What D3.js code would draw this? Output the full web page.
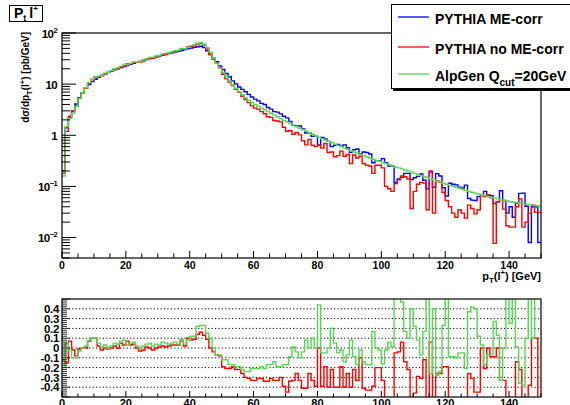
<!DOCTYPE html>
<html><head><meta charset="utf-8">
<script src="https://cdn.jsdelivr.net/npm/d3@7"></script>
<style>
html,body{margin:0;padding:0;background:#fff;}
svg{display:block;font-family:"Liberation Sans",Arial,Helvetica,sans-serif;}
</style></head><body>
<svg id="c" width="570" height="405"></svg>
<script>
// ---- data (1 GeV bins, pT 0..150 GeV) ----
const binEdgesStart = 0, binEdgesEnd = 150, binWidth = 1;
const pythiaME = [0.2,1.4,2.2,3.0,4.1,5.4,6.8,8.3,9.8,11.2,
12.5,13.6,14.8,15.9,17.0,18.0,19.0,20.0,21.0,22.0,
23.2,24.3,25.5,26.6,27.8,29.0,30.2,31.5,32.8,34.0,
35.3,36.7,38.0,39.5,41.0,42.5,44.0,45.6,47.2,48.9,
50.6,52.3,54.0,55.0,52.0,45.0,38.0,32.0,27.4,22.6,
19.3,16.1,13.9,11.6,10.1,8.8,7.9,7.1,6.3,5.6,
5.1,4.7,4.2,4.0,3.5,3.25,2.9,2.84,2.62,2.36,
2.19,1.87,1.56,1.53,1.52,1.33,1.11,1.12,0.95,0.98,
0.64,0.91,0.85,0.76,0.6,0.64,0.66,0.61,0.65,0.57,
0.46,0.52,0.54,0.43,0.47,0.46,0.43,0.29,0.32,0.32,
0.35,0.29,0.25,0.25,0.12,0.14,0.15,0.18,0.18,0.136,
0.148,0.157,0.175,0.132,0.09,0.19,0.096,0.178,0.16,0.094,
0.065,0.115,0.11,0.107,0.097,0.093,0.106,0.058,0.054,0.053,
0.063,0.066,0.08,0.068,0.066,0.046,0.05,0.082,0.053,0.03,
0.04,0.025,0.047,0.073,0.074,0.041,0.008,0.04,0.04,0.008];
const pythiaNoME = [0.18,1.19,2.35,2.94,3.77,5.35,6.8,8.3,10.5,12.3,
13.75,13.9,14.5,15.9,16.8,18.0,19.4,20.0,22.0,22.7,
24.8,25.0,26.5,26.6,27.0,28.4,30.5,31.5,32.1,34.0,
35.7,37.4,38.4,40.3,42.2,43.8,45.3,48.8,48.1,53.8,
54.6,57.0,61.0,63.0,58.0,49.0,38.0,30.7,25.5,20.8,
15.6,12.7,11.0,9.4,7.9,6.9,5.8,5.0,4.35,3.75,
3.4,3.25,2.9,2.64,2.31,2.24,1.94,1.9,1.83,1.44,
1.2,1.23,1.05,1.13,1.02,0.78,0.65,0.83,0.64,0.6,
0.64,0.56,0.69,0.46,0.47,0.38,0.4,0.49,0.39,0.42,
0.28,0.41,0.36,0.39,0.28,0.26,0.25,0.18,0.26,0.26,
0.23,0.1,0.09,0.08,0.114,0.134,0.16,0.155,0.14,0.037,
0.08,0.11,0.12,0.116,0.035,0.2,0.03,0.13,0.12,0.076,
0.053,0.04,0.03,0.025,0.035,0.03,0.024,0.043,0.037,0.029,
0.035,0.066,0.063,0.068,0.06,0.0077,0.05,0.055,0.036,0.017,
0.016,0.016,0.04,0.057,0.016,0.02,0.03,0.043,0.031,0.031];
const alpgen = [0.16,1.47,2.16,2.7,3.7,5.24,6.8,8.47,10.6,12.3,
13.75,14.3,14.95,16.4,17.0,18.4,19.95,20.8,22.5,23.8,
23.9,25.5,27.0,27.1,27.8,29.6,31.4,33.1,33.5,35.4,
36.4,38.9,39.9,41.1,43.1,45.1,45.8,49.7,49.1,52.8,
56.7,58.6,63.0,65.0,61.0,51.8,41.8,32.0,25.5,21.0,
17.0,14.2,11.5,9.6,8.2,7.1,6.2,5.4,4.8,4.4,
4.0,3.7,3.4,3.15,2.9,2.7,2.5,2.3,2.12,1.96,
1.82,1.7,1.58,1.47,1.37,1.28,1.2,1.12,1.05,0.98,
0.92,0.86,0.81,0.76,0.72,0.67,0.63,0.6,0.56,0.53,
0.5,0.47,0.45,0.42,0.4,0.38,0.36,0.34,0.32,0.31,
0.29,0.28,0.265,0.25,0.24,0.23,0.22,0.21,0.2,0.19,
0.18,0.17,0.163,0.155,0.148,0.14,0.134,0.128,0.122,0.116,
0.11,0.105,0.1,0.096,0.092,0.088,0.084,0.08,0.077,0.074,
0.071,0.068,0.066,0.063,0.061,0.059,0.057,0.055,0.053,0.052,
0.05,0.049,0.048,0.047,0.046,0.045,0.044,0.043,0.042,0.041];
const ratioNoME = [-0.12,-0.15,0.07,-0.02,-0.08,-0.01,0.0,0.0,0.07,0.1,
0.1,0.02,-0.02,0.0,-0.01,0.0,0.02,0.0,0.05,0.03,
0.07,0.03,0.04,0.0,-0.03,-0.02,0.01,0.0,-0.02,0.0,
0.01,0.02,0.01,0.02,0.03,0.03,0.03,0.07,0.02,0.1,
0.08,0.09,0.14,0.16,0.13,0.09,0.0,-0.04,-0.07,-0.08,
-0.19,-0.21,-0.21,-0.19,-0.22,-0.22,-0.26,-0.3,-0.31,-0.33,
-0.33,-0.31,-0.31,-0.34,-0.34,-0.31,-0.33,-0.33,-0.3,-0.39,
-0.45,-0.34,-0.33,-0.26,-0.33,-0.41,-0.41,-0.26,-0.33,-0.39,
0.0,-0.39,-0.19,-0.4,-0.22,-0.4,-0.4,-0.19,-0.4,-0.26,
-0.4,-0.22,-0.33,-0.1,-0.41,-0.43,-0.43,-0.39,-0.2,-0.2,
-0.33,-0.6,-0.6,-0.6,-0.05,-0.04,0.06,-0.14,-0.22,-0.6,
-0.46,-0.29,-0.31,-0.12,-0.6,0.06,-0.6,-0.26,-0.26,-0.19,
-0.19,-0.6,-0.6,-0.6,-0.6,-0.6,-0.6,-0.26,-0.31,-0.45,
-0.45,0.0,-0.21,0.0,-0.09,-0.09,0.0,-0.33,-0.33,-0.6,
-0.6,-0.6,-0.14,-0.22,-0.6,-0.6,-0.38,0.1,0.1,-0.6];
const ratioAlpgen = [-0.2,0.05,-0.02,-0.1,-0.1,-0.03,0.0,0.02,0.08,0.1,
0.1,0.05,0.01,0.03,0.0,0.02,0.05,0.04,0.07,0.08,
0.03,0.05,0.06,0.02,0.0,0.02,0.04,0.05,0.02,0.04,
0.03,0.06,0.05,0.04,0.05,0.06,0.04,0.09,0.04,0.08,
0.12,0.12,0.22,0.23,0.23,0.15,0.1,0.0,-0.07,-0.07,
-0.12,-0.12,-0.17,-0.17,-0.19,-0.19,-0.22,-0.24,-0.24,-0.21,
-0.21,-0.21,-0.19,-0.21,-0.17,-0.17,-0.14,-0.19,-0.19,-0.17,
-0.17,-0.09,0.01,-0.04,-0.1,-0.04,0.08,0.0,0.1,0.0,
0.44,-0.05,-0.05,0.0,0.2,0.05,-0.05,-0.02,-0.14,-0.07,
0.08,-0.09,-0.17,-0.02,-0.14,-0.17,-0.17,0.17,0.0,-0.02,
-0.16,-0.02,0.06,0.01,0.55,0.55,0.47,0.17,0.1,0.4,
0.22,0.08,-0.07,0.17,0.55,-0.26,0.4,-0.28,-0.24,0.23,
0.55,-0.09,-0.09,-0.1,-0.05,-0.05,-0.21,0.37,0.42,0.4,
0.12,0.03,-0.17,-0.07,-0.07,0.27,0.13,-0.33,0.0,0.55,
0.25,0.55,0.01,-0.36,-0.38,0.1,0.55,0.1,0.55,0.55];

const xTickValues = [0,20,40,60,80,100,120,140];
const yTopTicks = [{v:100,b:"10",s:"2"},{v:10,b:"10",s:""},{v:1,b:"1",s:""},{v:0.1,b:"10",s:"-1"},{v:0.01,b:"10",s:"-2"}];
const ratioTicks = [0.4,0.3,0.2,0.1,0,-0.1,-0.2,-0.3,-0.4];
const ratioLabels = ["0.4","0.3","0.2","0.1","0","-0.1","-0.2","-0.3","-0.4"];
const legendEntries = [
  {name:"PYTHIA ME-corr", color:"#0000ff"},
  {name:"PYTHIA no ME-corr", color:"#ff0000"},
  {name:"AlpGen Q", sub:"cut", tail:"=20GeV", color:"#59d454"}
];
const colBlue="#0000ff", colRed="#ff0000", colGreen="#59d454";

// ---- layout ----
const svg = d3.select("#c");
const L=62, R=541, T1=33, B1=258, T2=299, B2=397;
const x = d3.scaleLinear().domain([binEdgesStart,binEdgesEnd]).range([L,R]);
const yTop = d3.scaleLog().domain([Math.pow(10,-2.4),100]).range([B1,T1]);
const yR = d3.scaleLinear().domain([-0.5,0.5]).range([B2,T2]);

const defs = svg.append("defs");
defs.append("clipPath").attr("id","clipTop").append("rect").attr("x",L).attr("y",T1).attr("width",R-L).attr("height",B1-T1);
defs.append("clipPath").attr("id","clipR").append("rect").attr("x",L).attr("y",T2).attr("width",R-L).attr("height",B2-T2);

function stepPath(vals, ys){
  const pts = vals.map((v,i)=>[x(binEdgesStart+i*binWidth), ys(v)]);
  pts.push([x(binEdgesStart+vals.length*binWidth), ys(vals[vals.length-1])]);
  return d3.line().curve(d3.curveStepAfter)(pts);
}

// ===== top panel =====
const gTop = svg.append("g");
const gh = gTop.append("g").attr("clip-path","url(#clipTop)");
[[pythiaME,colBlue],[pythiaNoME,colRed],[alpgen,colGreen]].forEach(([d,c])=>{
  gh.append("path").attr("d",stepPath(d,yTop)).attr("fill","none").attr("stroke",c).attr("stroke-width",1.4);
});
gTop.append("rect").attr("x",L).attr("y",T1).attr("width",R-L).attr("height",B1-T1)
  .attr("fill","none").attr("stroke","#000").attr("stroke-width",1.2);

// x ticks (inside)
d3.range(0,151,5).forEach(v=>{
  const major = v%20===0;
  gTop.append("line").attr("x1",x(v)).attr("x2",x(v)).attr("y1",B1).attr("y2",B1-(major?7:4.5)).attr("stroke","#000").attr("stroke-width",1);
});
xTickValues.forEach(v=>{
  gTop.append("text").attr("x",x(v)).attr("y",268.5).attr("text-anchor","middle")
    .attr("font-size",10.5).attr("font-weight","bold").text(v);
});
// y ticks log
for(let e=-3;e<2;e++){
  for(let m=1;m<10;m++){
    const v=m*Math.pow(10,e);
    if(v<yTop.domain()[0]||v>100) continue;
    gTop.append("line").attr("x1",L).attr("x2",L+(m===1?14:8)).attr("y1",yTop(v)).attr("y2",yTop(v)).attr("stroke","#000").attr("stroke-width",1);
  }
}
gTop.append("line").attr("x1",L).attr("x2",L+14).attr("y1",yTop(100)).attr("y2",yTop(100)).attr("stroke","#000");
yTopTicks.forEach(t=>{
  const tx = gTop.append("text").attr("x",57).attr("y",yTop(t.v)+4.5).attr("text-anchor","end")
    .attr("font-size",11.5).attr("font-weight","bold").attr("letter-spacing",-0.6);
  tx.append("tspan").text(t.b);
  if(t.s){ tx.append("tspan").attr("font-size",7.5).attr("dy",-5).text(t.s.replace("-","\u2212")); }
});
// axis titles
const xt = gTop.append("text").attr("x",R).attr("y",280).attr("text-anchor","end").attr("font-size",11).attr("font-weight","bold");
xt.append("tspan").text("p");
xt.append("tspan").attr("font-size",8).attr("dy",3).text("T");
xt.append("tspan").attr("dy",-3).text("(l");
xt.append("tspan").attr("font-size",7.5).attr("dy",-5).text("+");
xt.append("tspan").attr("dy",5).text(") [GeV]");

const yt = gTop.append("text").attr("transform","translate(29,32) rotate(-90)").attr("text-anchor","end")
  .attr("font-size",10).attr("font-weight","bold");
yt.append("tspan").text("d\u03c3/dp");
yt.append("tspan").attr("font-size",7.5).attr("dy",2.5).text("T");
yt.append("tspan").attr("dy",-2.5).text("(l");
yt.append("tspan").attr("font-size",7.5).attr("dy",-4).text("+");
yt.append("tspan").attr("dy",4).text(") [pb/GeV]");

// title box
svg.append("rect").attr("x",9.5).attr("y",5.5).attr("width",33).attr("height",16).attr("fill","#fff").attr("stroke","#000").attr("stroke-width",1);
const tt = svg.append("text").attr("x",14).attr("y",18).attr("font-size",14).attr("font-weight","bold");
tt.append("tspan").text("P");
tt.append("tspan").attr("font-size",9).attr("dy",3).text("t");
tt.append("tspan").attr("dy",-3).attr("dx",3).text("l");
tt.append("tspan").attr("font-size",8).attr("dy",-7).text("+");

// legend
const lg = svg.append("g");
lg.append("rect").attr("x",393).attr("y",6).attr("width",190).attr("height",85).attr("fill","#000");
lg.append("rect").attr("x",391.5).attr("y",4.5).attr("width",190).attr("height",84).attr("fill","#fff").attr("stroke","#000").attr("stroke-width",1);
const legY = [17,47,74];
legendEntries.forEach((e,i)=>{
  lg.append("line").attr("x1",398).attr("x2",429).attr("y1",legY[i]).attr("y2",legY[i]).attr("stroke",e.color).attr("stroke-width",1.3);
  const t = lg.append("text").attr("x",435).attr("y",legY[i]+7).attr("font-size",14).attr("font-weight","bold");
  t.append("tspan").text(e.name);
  if(e.sub){ t.append("tspan").attr("font-size",10).attr("dy",5).text(e.sub); t.append("tspan").attr("dy",-5).text(e.tail); }
});

// ===== ratio panel =====
const gR = svg.append("g");
ratioTicks.forEach(v=>{
  gR.append("line").attr("x1",L).attr("x2",R).attr("y1",yR(v)).attr("y2",yR(v))
    .attr("stroke","#000").attr("stroke-width",1).attr("stroke-dasharray","1.2,2.2");
});
const gr = gR.append("g").attr("clip-path","url(#clipR)");
[[ratioNoME,colRed],[ratioAlpgen,colGreen]].forEach(([d,c])=>{
  gr.append("path").attr("d",stepPath(d,yR)).attr("fill","none").attr("stroke",c).attr("stroke-width",1.4);
});
gR.append("rect").attr("x",L).attr("y",T2).attr("width",R-L).attr("height",B2-T2)
  .attr("fill","none").attr("stroke","#000").attr("stroke-width",1.2);
d3.range(-0.5,0.5001,0.02).forEach(v=>{
  const major = Math.abs(Math.round(v*10)-v*10)<1e-6;
  gR.append("line").attr("x1",L).attr("x2",L+(major?8:5)).attr("y1",yR(v)).attr("y2",yR(v)).attr("stroke","#000").attr("stroke-width",0.8);
});
d3.range(0,151,5).forEach(v=>{
  const major = v%20===0;
  gR.append("line").attr("x1",x(v)).attr("x2",x(v)).attr("y1",B2).attr("y2",B2-(major?6:3.5)).attr("stroke","#000").attr("stroke-width",1);
});
ratioTicks.forEach((v,i)=>{
  gR.append("text").attr("x",59).attr("y",yR(v)+4.2).attr("text-anchor","end")
    .attr("font-size",11.5).attr("font-weight","bold").attr("letter-spacing",-0.3).text(ratioLabels[i]);
});
xTickValues.forEach(v=>{
  gR.append("text").attr("x",x(v)).attr("y",406.5).attr("text-anchor","middle")
    .attr("font-size",11).attr("font-weight","bold").text(v);
});
</script>
</body></html>
